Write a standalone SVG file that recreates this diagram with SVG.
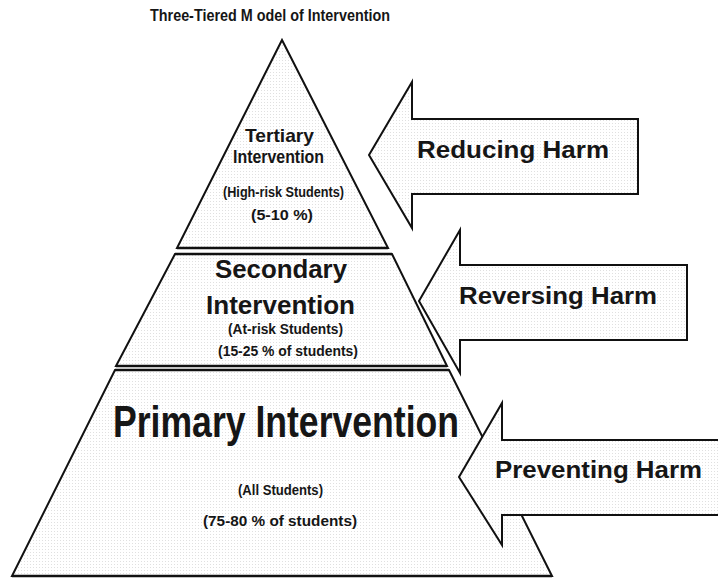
<svg xmlns="http://www.w3.org/2000/svg" width="718" height="578" viewBox="0 0 718 578">
  <defs>
    <!-- fine halftone dot fill used by every shape -->
    <pattern id="dots" width="3" height="3" patternUnits="userSpaceOnUse">
      <rect width="3" height="3" fill="#ffffff"/>
      <rect width="1" height="1" fill="#e0e0e0"/>
    </pattern>
    <style>
      .shape { fill: url(#dots); stroke: #111; stroke-width: 2; stroke-linejoin: miter; }
      .base { stroke: #111; stroke-width: 2.6; }
      text { font-family: "Liberation Sans", Arial, Helvetica, sans-serif; font-weight: bold; fill: #161616; }
    </style>
  </defs>

  <rect width="718" height="578" fill="#ffffff"/>

  <g id="title">
    <text x="150" y="21" font-size="16" textLength="240" lengthAdjust="spacingAndGlyphs">Three-Tiered M odel of Intervention</text>
  </g>

  <!-- pyramid tiers -->
  <g id="tier-tertiary">
    <polygon class="shape" points="282,40 388,248 177,248"/>
    <line class="base" x1="177" y1="248" x2="388" y2="248"/>
    <text x="245" y="142" font-size="18.5" textLength="69" lengthAdjust="spacingAndGlyphs">Tertiary</text>
    <text x="233" y="163" font-size="18.5" textLength="91" lengthAdjust="spacingAndGlyphs">Intervention</text>
    <text x="223" y="197" font-size="14" textLength="121" lengthAdjust="spacingAndGlyphs">(High-risk Students)</text>
    <text x="251" y="220" font-size="14.5" textLength="62" lengthAdjust="spacingAndGlyphs">(5-10 %)</text>
  </g>

  <g id="tier-secondary">
    <polygon class="shape" points="175,254 392,254 447,366 116,366"/>
    <line class="base" x1="175" y1="254" x2="392" y2="254"/>
    <line class="base" x1="116" y1="366" x2="447" y2="366"/>
    <text x="215" y="278" font-size="25.5" textLength="132" lengthAdjust="spacingAndGlyphs">Secondary</text>
    <text x="206" y="314" font-size="25.5" textLength="149" lengthAdjust="spacingAndGlyphs">Intervention</text>
    <text x="228" y="334" font-size="14" textLength="115" lengthAdjust="spacingAndGlyphs">(At-risk Students)</text>
    <text x="218" y="356" font-size="15" textLength="140" lengthAdjust="spacingAndGlyphs">(15-25 % of students)</text>
  </g>

  <g id="tier-primary">
    <polygon class="shape" points="115,370 449,370 552,576 12,576"/>
    <line class="base" x1="115" y1="370" x2="449" y2="370"/>
    <line class="base" x1="12" y1="576" x2="552" y2="576"/>
    <text x="113" y="437" font-size="44" textLength="346" lengthAdjust="spacingAndGlyphs">Primary Intervention</text>
    <text x="238" y="495" font-size="14" textLength="85" lengthAdjust="spacingAndGlyphs">(All Students)</text>
    <text x="203" y="526" font-size="15" textLength="154" lengthAdjust="spacingAndGlyphs">(75-80 % of students)</text>
  </g>

  <!-- block arrows pointing at the pyramid -->
  <g id="arrow-reducing">
    <polygon class="shape" points="369,155 412,82 412,119 638,119 638,194 412,194 412,228"/>
    <text x="417" y="158" font-size="24" textLength="192" lengthAdjust="spacingAndGlyphs">Reducing Harm</text>
  </g>

  <g id="arrow-reversing">
    <polygon class="shape" points="419,301 460,230 460,265 687,265 687,340 460,340 460,373"/>
    <text x="459" y="304" font-size="24" textLength="198" lengthAdjust="spacingAndGlyphs">Reversing Harm</text>
  </g>

  <g id="arrow-preventing">
    <polygon class="shape" points="459,477 502,403 502,440 722,440 722,515 502,515 502,545"/>
    <text x="495" y="478" font-size="24" textLength="207" lengthAdjust="spacingAndGlyphs">Preventing Harm</text>
  </g>
</svg>
